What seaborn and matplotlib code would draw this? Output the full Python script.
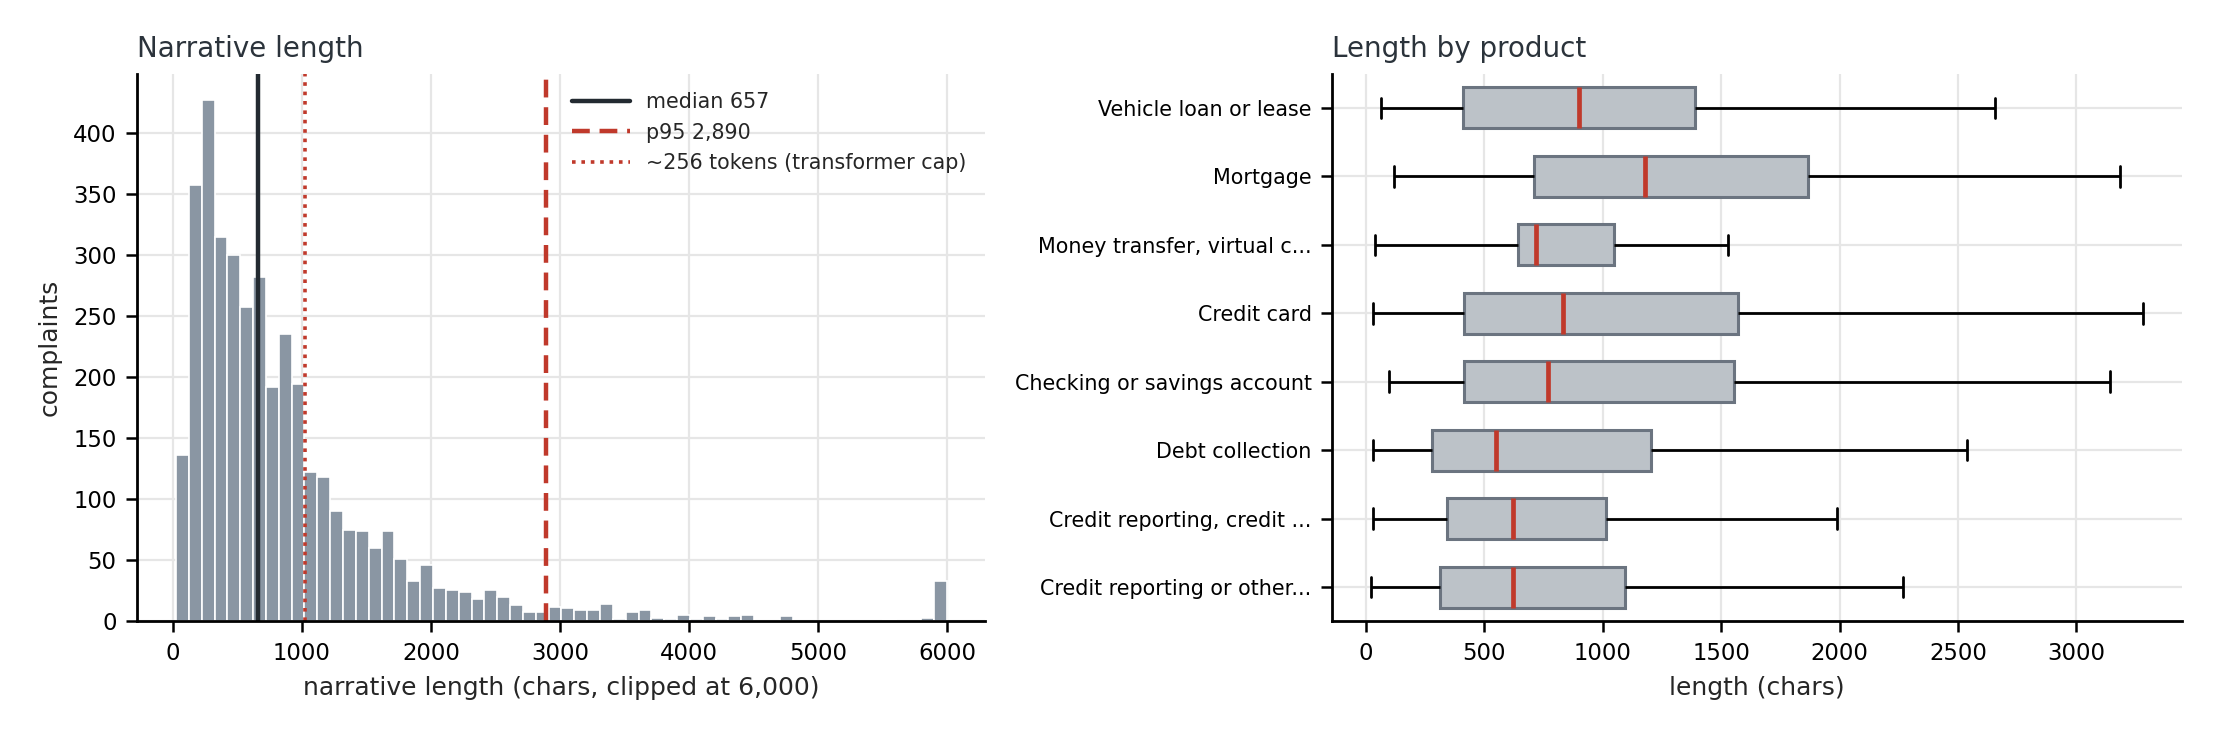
import numpy as np
import pandas as pd
import matplotlib
matplotlib.use("Agg")
import matplotlib.pyplot as plt
import seaborn as sns

# ---------------- data ----------------
hist_counts = [136, 357, 427, 315, 300, 257, 282, 192, 235, 194,
               122, 118, 90, 75, 74, 60, 74, 51, 33, 46,
               27, 26, 24, 18, 26, 20, 13, 8, 8, 12,
               11, 9, 9, 14, 2, 8, 9, 3, 2, 5,
               2, 4, 2, 4, 5, 0, 0, 4, 0, 0,
               0, 0, 0, 0, 0, 1, 0, 0, 3, 33]
hist_lo, hist_hi = 24, 6000
median_len = 657
p95_len = 2890
token_cap_len = 1024

products = ["Vehicle loan or lease", "Mortgage", "Money transfer, virtual c...",
            "Credit card", "Checking or savings account", "Debt collection",
            "Credit reporting, credit ...", "Credit reporting or other..."]
whisk_lo = [65, 119, 39, 31, 99, 29, 29, 22]
q1 = [410, 710, 642, 414, 414, 279, 344, 313]
med = [899, 1178, 720, 834, 771, 548, 620, 623]
q3 = [1388, 1868, 1049, 1570, 1556, 1204, 1015, 1095]
whisk_hi = [2656, 3184, 1529, 3281, 3140, 2539, 1989, 2268]

# ---------------- style ----------------
sns.set_theme(style="whitegrid")
plt.rcParams["font.family"] = ["DejaVu Sans"]
plt.rcParams.update({
    "axes.edgecolor": "black",
    "axes.linewidth": 1.0,
    "grid.color": "#e6e6e6",
    "grid.linewidth": 0.8,
    "xtick.bottom": True,
    "ytick.left": True,
    "xtick.color": "black",
    "ytick.color": "black",
    "xtick.major.size": 4,
    "ytick.major.size": 4,
    "xtick.major.width": 0.9,
    "ytick.major.width": 0.9,
})

fig = plt.figure(figsize=(11.085, 3.685), dpi=200)
ax1 = fig.add_axes([0.062, 0.157, 0.3825, 0.743])
ax2 = fig.add_axes([0.601, 0.157, 0.383, 0.743])

# ---------------- histogram ----------------
nbins = len(hist_counts)
edges = np.linspace(hist_lo, hist_hi, nbins + 1)
centers = (edges[:-1] + edges[1:]) / 2
hdf = pd.DataFrame({"len": centers, "n": np.asarray(hist_counts, dtype=float)})
sns.histplot(data=hdf, x="len", weights="n", bins=nbins, binrange=(hist_lo, hist_hi),
             ax=ax1, color="#8a96a3", edgecolor="white", linewidth=0.6, alpha=1.0)
ax1.axvline(median_len, color="#232a31", lw=1.6, label=f"median {median_len:,}")
ax1.axvline(p95_len, color="#c0392b", lw=1.6, ls=(0, (4, 2.2)), label=f"p95 {p95_len:,}")
ax1.axvline(token_cap_len, color="#c0392b", lw=1.3, ls=(0, (1, 1.6)),
            label="~256 tokens (transformer cap)")
ax1.legend(loc="upper right", frameon=False, fontsize=7.45, handlelength=2.8,
           borderaxespad=0.5)
ax1.set_title("Narrative length", loc="left", fontsize=10, color="#2b333b")
ax1.set_xlabel("narrative length (chars, clipped at 6,000)", fontsize=9)
ax1.set_ylabel("complaints", fontsize=9)
ax1.tick_params(labelsize=8.2)
ax1.set_xticks([0, 1000, 2000, 3000, 4000, 5000, 6000])
sns.despine(ax=ax1)

# ---------------- boxplot ----------------
rows = []
for p, a, b, c, d, e in zip(products, whisk_lo, q1, med, q3, whisk_hi):
    for v in (a, b, c, d, e):
        rows.append({"product": p, "length": v})
df = pd.DataFrame(rows)
sns.boxplot(data=df, x="length", y="product", order=products, ax=ax2,
            whis=(0, 100), width=0.6, showfliers=False,
            boxprops=dict(facecolor="#bcc2c8", edgecolor="#6b7480", linewidth=1.1),
            medianprops=dict(color="#c0392b", linewidth=1.7),
            whiskerprops=dict(color="black", linewidth=1.0),
            capprops=dict(color="black", linewidth=1.0))
ax2.set_title("Length by product", loc="left", fontsize=10, color="#2b333b")
ax2.set_xlabel("length (chars)", fontsize=9)
ax2.set_ylabel("")
ax2.tick_params(axis="x", labelsize=8.2)
ax2.tick_params(axis="y", labelsize=7.45)
ax2.grid(True, axis="both")
sns.despine(ax=ax2)

fig.savefig("out.png", dpi=200)
